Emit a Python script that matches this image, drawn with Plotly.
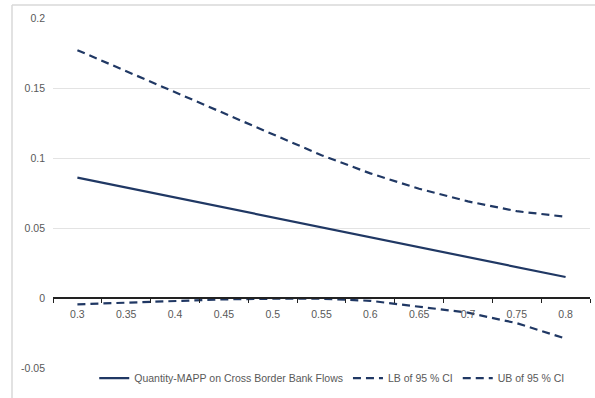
import plotly.graph_objects as go

categories = ["0.3", "0.35", "0.4", "0.45", "0.5", "0.55", "0.6", "0.65", "0.7", "0.75", "0.8"]
effect = [0.086, 0.0789, 0.0718, 0.0647, 0.0576, 0.0505, 0.0434, 0.0363, 0.0292, 0.0221, 0.015]
lower = [-0.0045, -0.0033, -0.002, -0.001, -0.0005, -0.0005, -0.002, -0.006, -0.0105, -0.018, -0.029]
upper = [0.177, 0.162, 0.147, 0.132, 0.117, 0.102, 0.089, 0.078, 0.069, 0.062, 0.058]
y_tickvals = [-0.05, 0, 0.05, 0.1, 0.15, 0.2]
y_ticktext = ["-0.05", "0", "0.05", "0.1", "0.15", "0.2"]
names = ["Quantity-MAPP on Cross Border Bank Flows", "LB of 95 % CI", "UB of 95 % CI"]

navy = "#203864"
grey_txt = "#595959"
y_range = [-0.05, 0.2]
dash_style = "8px,5px"

fig = go.Figure()
fig.add_trace(go.Scatter(x=categories, y=effect, mode="lines", name=names[0],
                         line=dict(color=navy, width=2.2)))
fig.add_trace(go.Scatter(x=categories, y=lower, mode="lines", name=names[1],
                         line=dict(color=navy, width=2.2, dash=dash_style)))
fig.add_trace(go.Scatter(x=categories, y=upper, mode="lines", name=names[2],
                         line=dict(color=navy, width=2.2, dash=dash_style)))

zero_pos = (0 - y_range[0]) / (y_range[1] - y_range[0])

fig.update_layout(
    width=595, height=398,
    margin=dict(l=53, r=5, t=18, b=30),
    paper_bgcolor="white", plot_bgcolor="white",
    font=dict(family="Liberation Sans, Arial, sans-serif", size=10.5, color=grey_txt),
    showlegend=True,
    legend=dict(orientation="h", x=0.52, xanchor="center", y=-0.029, yanchor="middle",
                font=dict(size=10.5, color=grey_txt), itemwidth=30,
                bgcolor="rgba(0,0,0,0)"),
    xaxis=dict(type="category", anchor="free", position=zero_pos,
               showline=True, linecolor="#222222", linewidth=2,
               ticks="outside", ticklen=4, tickcolor="#222222", tickwidth=1,
               tickson="boundaries", ticklabelstandoff=6,
               showgrid=False, zeroline=False,
               tickfont=dict(size=10.5, color=grey_txt),
               range=[-0.5, len(categories) - 0.5]),
    yaxis=dict(range=y_range, tickvals=y_tickvals, ticktext=y_ticktext,
               showgrid=True, gridcolor="#e3e3e3", gridwidth=1,
               zeroline=False, showline=False, ticks="", ticklabelstandoff=7,
               tickfont=dict(size=10.5, color=grey_txt)),
)

# chart-area frame (left and top edges visible in the crop)
fig.add_shape(type="line", xref="paper", yref="paper",
              x0=(12 - 53) / 537, x1=(12 - 53) / 537, y0=-0.2, y1=(368 - 5) / 350,
              line=dict(color="#d9d9d9", width=1.5))
fig.add_shape(type="line", xref="paper", yref="paper",
              x0=(12 - 53) / 537, x1=1.02, y0=(368 - 5) / 350, y1=(368 - 5) / 350,
              line=dict(color="#d9d9d9", width=1.5))

fig.write_html("out.html")
